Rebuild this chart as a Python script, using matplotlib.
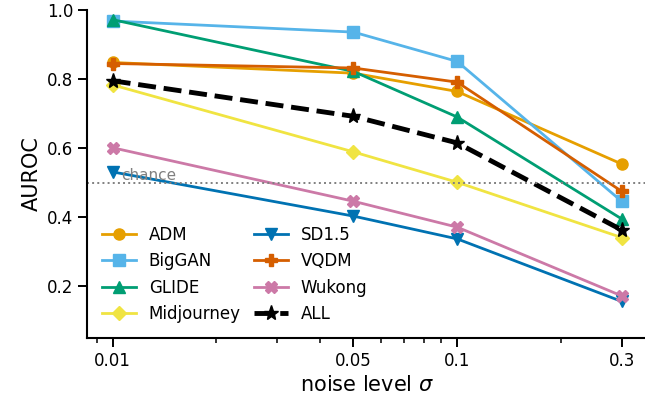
import matplotlib
matplotlib.use("Agg")
import matplotlib.pyplot as plt
from matplotlib.ticker import NullFormatter

# noise levels (log x axis)
noise = [0.01, 0.05, 0.1, 0.3]

# AUROC per generator
adm = [0.848, 0.817, 0.764, 0.554]
biggan = [0.968, 0.936, 0.851, 0.446]
glide = [0.972, 0.822, 0.690, 0.395]
midjourney = [0.783, 0.589, 0.501, 0.341]
sd15 = [0.531, 0.403, 0.337, 0.156]
vqdm = [0.845, 0.832, 0.791, 0.475]
wukong = [0.601, 0.446, 0.371, 0.172]
all_gen = [0.795, 0.692, 0.615, 0.363]

names = ["ADM", "BigGAN", "GLIDE", "Midjourney", "SD1.5", "VQDM", "Wukong"]
series = [adm, biggan, glide, midjourney, sd15, vqdm, wukong]
markers = ["o", "s", "^", "D", "v", "P", "X"]
msizes = [8, 8, 8, 7, 8, 8, 8]
# okabe-ito
colors = ["#E69F00", "#56B4E9", "#009E73", "#F0E442", "#0072B2", "#D55E00", "#CC79A7"]

xticks = [0.01, 0.05, 0.1, 0.3]
xticklabels = ["0.01", "0.05", "0.1", "0.3"]
yticks = [0.2, 0.4, 0.6, 0.8, 1.0]

plt.rcParams["font.family"] = "DejaVu Sans"

fig = plt.figure(figsize=(6.45, 4.08), dpi=100)
ax = fig.add_axes([0.1352, 0.1716, 0.868, 0.8039])

for name, vals, m, ms, c in zip(names, series, markers, msizes, colors):
    ax.plot(noise, vals, marker=m, color=c, lw=2.0, ms=ms, label=name)
ax.plot(noise, all_gen, marker="*", color="black", lw=3.5, ls="--", ms=11, label="ALL")

# chance level
ax.axhline(0.5, ls=":", color="gray", lw=1.4)
ax.text(0.0106, 0.5, "chance", color="gray", fontsize=11, va="bottom", ha="left")

ax.set_xscale("log")
ax.set_xticks(xticks)
ax.set_xticklabels(xticklabels)
ax.xaxis.set_minor_formatter(NullFormatter())
ax.set_yticks(yticks)
ax.set_ylim(0.05, 1.0)

ax.spines["top"].set_visible(False)
ax.spines["right"].set_visible(False)
for s in ["left", "bottom"]:
    ax.spines[s].set_linewidth(1.5)
ax.tick_params(which="major", length=6.5, width=1.4, labelsize=12)
ax.tick_params(which="minor", length=3.6, width=1.1)

ax.set_xlabel(r"noise level $\sigma$", fontsize=15)
ax.set_ylabel("AUROC", fontsize=15)

ax.legend(ncol=2, frameon=False, loc="lower left", fontsize=12, columnspacing=0.8)

fig.savefig("out.png", dpi=100)
